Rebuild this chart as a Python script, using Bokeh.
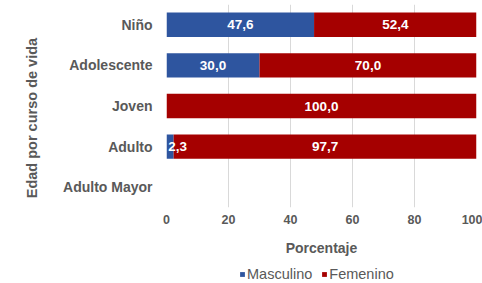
from bokeh.plotting import figure
from bokeh.models import Range1d, FixedTicker, Legend, LegendItem, ColumnDataSource
from bokeh.layouts import column
from bokeh.core.properties import value, field
from bokeh.embed import file_html
from bokeh.resources import INLINE

categories = ["Niño", "Adolescente", "Joven", "Adulto", "Adulto Mayor"]
masculino = [47.6, 30.0, 0.0, 2.3, 0.0]
femenino = [52.4, 70.0, 100.0, 97.7, 0.0]
series_names = ["Masculino", "Femenino"]
x_ticks = [0, 20, 40, 60, 80, 100]

BLUE = "#2E559F"
RED = "#A50000"
GRAY = "#595959"
FONT = "Liberation Sans"

ypos = list(range(len(categories)))

p = figure(width=482, height=258, output_backend="svg", toolbar_location=None,
           x_range=Range1d(0, 100), y_range=Range1d(4.5, -0.5),
           min_border_left=166, min_border_right=6, min_border_top=4,
           min_border_bottom=50)
p.outline_line_color = None
p.background_fill_color = "white"

m_left = [0.0] * len(categories)
m_right = masculino
f_left = masculino
f_right = [m + f for m, f in zip(masculino, femenino)]

p.hbar(y=ypos, left=m_left, right=m_right, height=0.6, fill_color=BLUE, line_color=None)
p.hbar(y=ypos, left=f_left, right=f_right, height=0.6, fill_color=RED, line_color=None)

# value labels
lx, ly, lt, la = [], [], [], []
for i in range(len(categories)):
    segs = [(m_left[i], m_right[i], masculino[i]), (f_left[i], f_right[i], femenino[i])]
    for a, b, v in segs:
        if v > 0:
            if v < 6:
                lx.append(a + 0.6); la.append("left")
            else:
                lx.append((a + b) / 2); la.append("center")
            ly.append(i)
            lt.append(f"{v:.1f}".replace(".", ","))
src = ColumnDataSource(dict(x=lx, y=ly, text=lt, align=la))
p.text(x="x", y="y", text="text", source=src, text_align=field("align"),
       text_baseline="middle", text_color="white", text_font=value(FONT),
       text_font_style="bold", text_font_size="13.5px")

# axes
xa = p.xaxis[0]
xa.ticker = FixedTicker(ticks=x_ticks)
xa.axis_line_color = None
xa.major_tick_line_color = None
xa.minor_tick_line_color = None
xa.major_tick_out = 0
xa.major_tick_in = 0
xa.major_label_text_font = FONT
xa.major_label_text_font_style = "bold"
xa.major_label_text_font_size = "12.5px"
xa.major_label_text_color = GRAY
xa.major_label_standoff = 7
xa.axis_label = "Porcentaje"
xa.axis_label_text_font = FONT
xa.axis_label_text_font_style = "bold"
xa.axis_label_text_font_size = "14px"
xa.axis_label_text_color = GRAY
xa.axis_label_standoff = 13

ya = p.yaxis[0]
ya.ticker = FixedTicker(ticks=ypos)
ya.major_label_overrides = {i: c for i, c in enumerate(categories)}
ya.axis_line_color = None
ya.major_tick_line_color = None
ya.minor_tick_line_color = None
ya.major_tick_out = 0
ya.major_tick_in = 0
ya.major_label_text_font = FONT
ya.major_label_text_font_style = "bold"
ya.major_label_text_font_size = "14px"
ya.major_label_text_color = GRAY
ya.major_label_standoff = 14
ya.axis_label = "Edad por curso de vida" + "\u00a0" * 6
ya.axis_label_text_font = FONT
ya.axis_label_text_font_style = "bold"
ya.axis_label_text_font_size = "14.5px"
ya.axis_label_text_color = GRAY
ya.axis_label_standoff = 20

p.ygrid.grid_line_color = None
p.xgrid.ticker = FixedTicker(ticks=x_ticks)
p.xgrid.grid_line_color = "#D9D9D9"

# legend strip below the chart (same series, drawn out of view; only the legend shows)
p2 = figure(width=482, height=25, output_backend="svg", toolbar_location=None,
            x_range=Range1d(0, 100), y_range=Range1d(50, 51),
            x_axis_location=None, y_axis_location=None,
            min_border_left=166, min_border_right=6, min_border_top=0, min_border_bottom=0)
p2.outline_line_color = None
p2.grid.visible = False
lm = p2.hbar(y=ypos, left=m_left, right=m_right, height=0.6, fill_color=BLUE, line_color=None)
lf = p2.hbar(y=ypos, left=f_left, right=f_right, height=0.6, fill_color=RED, line_color=None)
legend = Legend(items=[LegendItem(label=series_names[0], renderers=[lm], index=0),
                       LegendItem(label=series_names[1], renderers=[lf], index=0)],
                orientation="horizontal", location=(73, 1))
legend.border_line_color = None
legend.background_fill_alpha = 0
legend.label_text_font = FONT
legend.label_text_font_size = "14.5px"
legend.label_text_color = GRAY
legend.glyph_width = 6
legend.glyph_height = 6
legend.label_height = 16
legend.label_standoff = 2
legend.spacing = 9
legend.padding = 0
legend.margin = 0
p2.add_layout(legend, "center")

open("out.html", "w").write(file_html(column(p, p2, spacing=0), INLINE))
